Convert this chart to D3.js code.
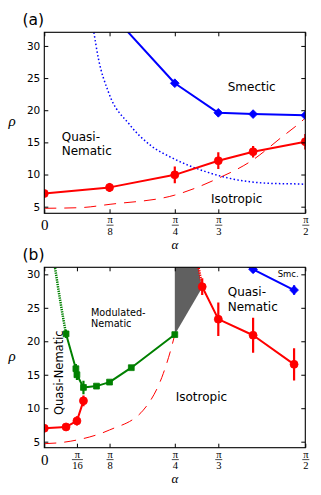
<!DOCTYPE html>
<html><head><meta charset="utf-8">
<script src="https://cdn.jsdelivr.net/npm/d3@7"></script>
<style>body{margin:0;background:#fff} svg{display:block}</style>
</head><body><svg id="c" width="321" height="495"></svg>
<script>
// α values are given in units of π
const yTicks = [5, 10, 15, 20, 25, 30];
const xTicksA = [0, 1/8, 1/4, 1/3, 1/2];
const xLabelsA = ["0", "π/8", "π/4", "π/3", "π/2"];
const xTicksB = [0, 1/16, 1/8, 1/4, 1/3, 1/2];
const xLabelsB = ["0", "π/16", "π/8", "π/4", "π/3", "π/2"];

// ---- panel (a)
const aBlueAlpha = [1/8, 1/4, 1/3, 2/5, 1/2];
const aBlueRho   = [35.3, 24.2, 19.6, 19.4, 19.2];
const aBlueErr   = [0, 0.45, 0.4, 0.35, 0.35];
const aRedAlpha  = [0, 1/8, 1/4, 1/3, 2/5, 1/2];
const aRedRho    = [7.05, 8.0, 9.95, 12.15, 13.55, 15.1];
const aRedErr    = [0.3, 0.7, 1.3, 1.3, 0.9, 1.2];
const aDotAlpha  = [0.095, 0.1035, 0.1225, 0.164, 0.2025, 0.247, 0.311, 0.3555, 0.426, 0.496, 0.5];
const aDotRho    = [32.1, 28.1, 22.9, 17.7, 14.6, 12.5, 10.4, 9.4, 8.65, 8.5, 8.45];
const aDashAlpha = [0, 0.0685, 0.126, 0.25, 0.33, 0.40, 0.4515, 0.496, 0.5];
const aDashRho   = [4.75, 4.85, 5.37, 6.8, 9.3, 12.3, 15.6, 18.5, 18.8];

// ---- panel (b)
const bGreenDotAlpha = [0.02, 0.03, 1/24];
const bGreenDotRho   = [31.3, 26.3, 21.1];
const bGreenAlpha = [1/24, 0.0605, 1/16, 0.075, 0.1, 1/8, 1/6, 1/4];
const bGreenRho   = [21.1, 15.9, 15.0, 13.1, 13.3, 13.9, 16.05, 21.0];
const bGreenErr   = [0.6, 0.7, 0.8, 1.0, 0.3, 0.3, 0.3, 0];
const bRedLAlpha  = [0, 1/24, 1/16, 0.075];
const bRedLRho    = [7.0, 7.2, 8.1, 11.1];
const bRedLErr    = [0.25, 0.3, 0.7, 0.8];
const bRedDotAlpha = [0.295, 0.3025];
const bRedDotRho   = [31.3, 28.15];
const bRedRAlpha  = [0.3025, 1/3, 2/5, 0.4785];
const bRedRRho    = [28.15, 23.3, 20.9, 16.55];
const bRedRErr    = [1.25, 2.5, 2.6, 2.4];
const bBlueAlpha  = [1/3, 2/5, 0.4785];
const bBlueRho    = [33.4, 30.75, 27.65];
const bBlueErr    = [0, 0.5, 0.7];
const bDashAlpha  = [0, 0.03, 0.0625, 0.125, 0.1895, 0.228, 0.244, 0.25];
const bDashRho    = [4.7, 4.85, 5.25, 6.75, 9.7, 15.2, 19.2, 21.0];
const bGrayAlpha  = [0.25, 0.25, 0.295, 0.3015];
const bGrayRho    = [21.0, 31.5, 31.5, 27.9];

const svg = d3.select("#c");
const SANS = "DejaVu Sans, sans-serif";
const SERIF = "Liberation Serif, DejaVu Serif, serif";

function zip(a, r, e) { return a.map((v, i) => ({a: v, r: r[i], e: e ? e[i] : 0})); }

function panel(opt) {
  const L = 44.3, R = 305.3;
  const x = d3.scaleLinear().domain([0, 0.5]).range([L, R]);
  const y = d3.scaleLinear().domain(opt.ydom).range([opt.bottom, opt.top]);
  const g = svg.append("g");
  const cid = "clip" + opt.id;
  g.append("clipPath").attr("id", cid).append("rect")
    .attr("x", L).attr("y", opt.top).attr("width", R - L).attr("height", opt.bottom - opt.top);
  const plot = g.append("g").attr("clip-path", `url(#${cid})`);
  const line = d3.line().x(d => x(d.a)).y(d => y(d.r));
  const smooth = d3.line().x(d => x(d.a)).y(d => y(d.r)).curve(d3.curveMonotoneX);

  function drawLine(data, color, width, dash, curve) {
    plot.append("path").datum(data).attr("d", curve ? smooth : line)
      .attr("fill", "none").attr("stroke", color).attr("stroke-width", width)
      .attr("stroke-dasharray", dash || null).attr("stroke-linejoin", "round");
  }
  function drawSeries(data, color, marker) {
    drawLine(data, color, 2);
    plot.selectAll(null).data(data.filter(d => d.e > 0)).enter().append("line")
      .attr("x1", d => x(d.a)).attr("x2", d => x(d.a))
      .attr("y1", d => y(d.r - d.e)).attr("y2", d => y(d.r + d.e))
      .attr("stroke", color).attr("stroke-width", 2.2);
    let sym;
    if (marker === "circle") sym = d3.symbol(d3.symbolCircle, 50);
    else if (marker === "diamond") sym = d3.symbol(d3.symbolSquare, 38);
    else sym = d3.symbol(d3.symbolSquare, 34);
    plot.selectAll(null).data(data).enter().append("path")
      .attr("d", sym)
      .attr("transform", d => `translate(${x(d.a)},${y(d.r)})` + (marker === "diamond" ? " rotate(45)" : ""))
      .attr("fill", color).attr("stroke", color).attr("stroke-width", 0.8);
  }
  opt.draw({plot, x, y, drawLine, drawSeries});

  // axes (inward ticks on all four sides)
  const tk = 4;
  g.append("g").attr("transform", `translate(${L},0)`)
    .call(d3.axisLeft(y).tickValues(yTicks).tickSizeInner(-tk).tickSizeOuter(0).tickPadding(4))
    .call(s => { s.select(".domain").remove();
      s.selectAll("text").attr("font-family", SANS).attr("font-size", 10.5).attr("fill", "#000"); });
  g.append("g").attr("transform", `translate(${R},0)`)
    .call(d3.axisRight(y).tickValues(yTicks).tickSizeInner(-tk).tickSizeOuter(0).tickFormat(""))
    .call(s => s.select(".domain").remove());
  g.append("g").attr("transform", `translate(0,${opt.top})`)
    .call(d3.axisTop(x).tickValues(opt.xticks).tickSizeInner(-tk).tickSizeOuter(0).tickFormat(""))
    .call(s => s.select(".domain").remove());
  const bx = g.append("g").attr("transform", `translate(0,${opt.bottom})`)
    .call(d3.axisBottom(x).tickValues(opt.xticks).tickSizeInner(-tk).tickSizeOuter(0).tickFormat(""))
    .call(s => s.select(".domain").remove());
  bx.selectAll(".tick").each(function(d, i) {
    const t = d3.select(this);
    const lab = opt.xlabels[i];
    if (lab === "0") {
      t.append("text").attr("y", 17).attr("text-anchor", "middle")
        .attr("font-family", SERIF).attr("font-size", 15).attr("fill", "#000").text("0");
    } else {
      const [num, den] = lab.split("/");
      const w = den.length > 1 ? 11 : 7;
      t.append("text").attr("y", 10.2).attr("text-anchor", "middle")
        .attr("font-family", SERIF).attr("font-size", 10.5).attr("fill", "#000").text(num);
      t.append("line").attr("x1", -w / 2).attr("x2", w / 2).attr("y1", 11.9).attr("y2", 11.9)
        .attr("stroke", "#000").attr("stroke-width", 0.7);
      t.append("text").attr("y", 21.8).attr("text-anchor", "middle")
        .attr("font-family", SERIF).attr("font-size", 10.5).attr("fill", "#000").text(den);
    }
  });
  g.selectAll(".tick line").attr("stroke", "#000");
  g.append("rect").attr("x", L).attr("y", opt.top).attr("width", R - L).attr("height", opt.bottom - opt.top)
    .attr("fill", "none").attr("stroke", "#000").attr("stroke-width", 1.1);

  // axis labels
  g.append("text").attr("x", (L + R) / 2).attr("y", opt.bottom + 35.5).attr("text-anchor", "middle")
    .attr("font-family", SERIF).attr("font-style", "italic").attr("font-size", 13).text("α");
  g.append("text").attr("x", 12).attr("y", (opt.top + opt.bottom) / 2 + 3).attr("text-anchor", "middle")
    .attr("font-family", SERIF).attr("font-style", "italic").attr("font-size", 15).text("ρ");
  g.append("text").attr("x", 22.5).attr("y", opt.top - 7.5)
    .attr("font-family", SANS).attr("font-size", 15.5).text(opt.tag);

  opt.labels.forEach(l => {
    const t = g.append("text").attr("font-family", SANS).attr("font-size", l.size).attr("fill", "#000");
    if (l.rot) t.attr("transform", `translate(${l.x},${l.y}) rotate(-90)`);
    else t.attr("x", l.x).attr("y", l.y);
    t.text(l.text);
  });
}

panel({
  id: "a", top: 32.3, bottom: 213.3, ydom: [3.97, 32.12], tag: "(a)",
  xticks: xTicksA, xlabels: xLabelsA,
  draw: ({drawLine, drawSeries}) => {
    drawLine(zip(aDashAlpha, aDashRho), "#ff0000", 1, "12,8", true);
    drawLine(zip(aDotAlpha, aDotRho), "#0000ff", 1.5, "1.5,2.3", true);
    drawSeries(zip(aBlueAlpha, aBlueRho, aBlueErr), "#0000ff", "diamond");
    drawSeries(zip(aRedAlpha, aRedRho, aRedErr), "#ff0000", "circle");
  },
  labels: [
    {text: "Smectic", x: 227.7, y: 90.7, size: 12},
    {text: "Quasi-", x: 61.7, y: 141, size: 12},
    {text: "Nematic", x: 61.7, y: 155.3, size: 12},
    {text: "Isotropic", x: 211, y: 203.3, size: 12}
  ]
});

panel({
  id: "b", top: 267.3, bottom: 447.7, ydom: [4.1, 31.05], tag: "(b)",
  xticks: xTicksB, xlabels: xLabelsB,
  draw: ({plot, x, y, drawLine, drawSeries}) => {
    plot.append("path").datum(zip(bGrayAlpha, bGrayRho))
      .attr("d", d3.line().x(d => x(d.a)).y(d => y(d.r)))
      .attr("fill", "#606060").attr("stroke", "none");
    drawLine(zip(bDashAlpha, bDashRho), "#ff0000", 1, "12,8", true);
    drawLine(zip(bGreenDotAlpha, bGreenDotRho), "#008000", 2.5, "1.3,1", true);
    drawLine(zip(bRedDotAlpha, bRedDotRho), "#ff0000", 2.5, "1.3,1", false);
    drawSeries(zip(bGreenAlpha, bGreenRho, bGreenErr), "#008000", "square");
    drawSeries(zip(bRedLAlpha, bRedLRho, bRedLErr), "#ff0000", "circle");
    drawSeries(zip(bRedRAlpha, bRedRRho, bRedRErr), "#ff0000", "circle");
    drawSeries(zip(bBlueAlpha, bBlueRho, bBlueErr), "#0000ff", "diamond");
  },
  labels: [
    {text: "Smc.", x: 277.7, y: 277.3, size: 8.5},
    {text: "Quasi-", x: 227.7, y: 295.7, size: 12},
    {text: "Nematic", x: 227.7, y: 310.7, size: 12},
    {text: "Modulated-", x: 91, y: 315.7, size: 9.7},
    {text: "Nematic", x: 91, y: 327.3, size: 9.7},
    {text: "Isotropic", x: 175.7, y: 400.7, size: 12},
    {text: "Quasi-Nematic", x: 63.3, y: 415, size: 11.5, rot: true}
  ]
});
</script></body></html>
